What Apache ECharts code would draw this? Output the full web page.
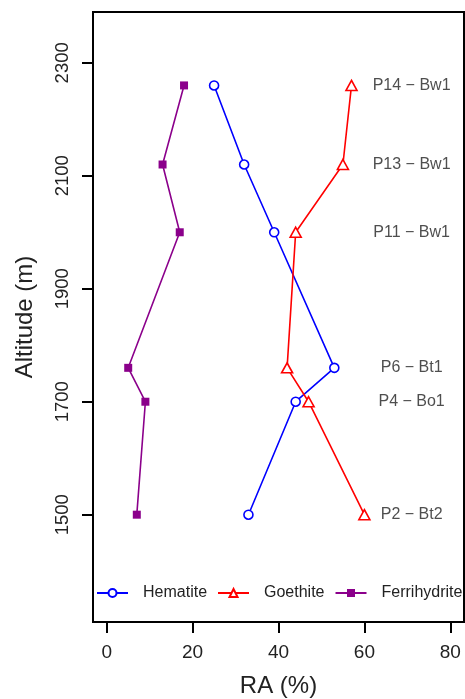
<!DOCTYPE html>
<html>
<head>
<meta charset="utf-8">
<script src="https://cdn.jsdelivr.net/npm/echarts@6/dist/echarts.min.js"></script>
<style>
html,body{margin:0;padding:0;background:#fff;}
#c{width:465px;height:699px;}
</style>
</head>
<body>
<div id="c"></div>
<script>
var altitudes = [2260, 2120, 2000, 1760, 1700, 1500];
var hematite = [25, 32, 39, 53, 44, 33];
var goethite = [57, 55, 44, 42, 47, 60];
var ferrihydrite = [18, 13, 17, 5, 9, 7];
var profileLabels = ['P14 − Bw1', 'P13 − Bw1', 'P11 − Bw1', 'P6 − Bt1', 'P4 − Bo1', 'P2 − Bt2'];
var labelX = 71;
var xTicks = [0, 20, 40, 60, 80];
var yTicks = [1500, 1700, 1900, 2100, 2300];

function pairs(vals) {
  return vals.map(function (v, i) { return [v, altitudes[i]]; });
}

var font = 'Liberation Sans, Arial, sans-serif';
var chart = echarts.init(document.getElementById('c'));
chart.setOption({
  animation: false,
  backgroundColor: '#fff',
  grid: {left: 93, right: 1, top: 12, bottom: 77, show: true, borderColor: '#000', borderWidth: 2,
    backgroundColor: 'transparent', outerBoundsMode: 'none', containLabel: false},
  legend: {
    left: 91, top: 580, width: 420,
    itemWidth: 31, itemHeight: 10, itemGap: 10,
    textStyle: {fontFamily: font, fontSize: 16, color: '#222', padding: [0, 0, 0, 10]},
    data: ['Hematite', 'Goethite', 'Ferrihydrite']
  },
  xAxis: {
    type: 'value', min: -3.2, max: 83.2,
    name: 'RA (%)', nameLocation: 'middle', nameGap: 52,
    nameTextStyle: {fontFamily: font, fontSize: 24, color: '#222'},
    axisLine: {show: true, onZero: false, lineStyle: {color: '#000', width: 2}},
    axisTick: {show: true, length: 11, inside: false, customValues: xTicks, lineStyle: {color: '#000', width: 2}},
    axisLabel: {customValues: xTicks, fontFamily: font, fontSize: 19, color: '#222', margin: 21,
      formatter: function (v) { return String(v); }},
    splitLine: {show: false}
  },
  yAxis: {
    type: 'value', min: 1310, max: 2390,
    name: 'Altitude (m)', nameLocation: 'middle', nameGap: 56,
    nameTextStyle: {fontFamily: font, fontSize: 24, color: '#222'},
    axisLine: {show: true, onZero: false, lineStyle: {color: '#000', width: 2}},
    axisTick: {show: true, length: 11, inside: false, customValues: yTicks, lineStyle: {color: '#000', width: 2}},
    axisLabel: {customValues: yTicks, rotate: 90, fontFamily: font, fontSize: 18.5, color: '#222', margin: 21,
      formatter: function (v) { return String(v); }},
    splitLine: {show: false}
  },
  series: [
    {
      name: 'Hematite', type: 'line', data: pairs(hematite),
      symbol: 'circle', symbolSize: 9,
      lineStyle: {color: '#0000FF', width: 1.6},
      itemStyle: {color: '#fff', borderColor: '#0000FF', borderWidth: 1.6}
    },
    {
      name: 'Goethite', type: 'line', data: pairs(goethite),
      symbol: 'path://M0,-10 L8.66,5 L-8.66,5 Z', symbolSize: [11, 10],
      lineStyle: {color: '#FF0000', width: 1.6},
      itemStyle: {color: '#fff', borderColor: '#FF0000', borderWidth: 1.6}
    },
    {
      name: 'Ferrihydrite', type: 'line', data: pairs(ferrihydrite),
      symbol: 'rect', symbolSize: 8,
      lineStyle: {color: '#8B008B', width: 1.6},
      itemStyle: {color: '#8B008B', borderColor: '#8B008B', borderWidth: 0}
    },
    {
      name: 'labels', type: 'scatter', symbolSize: 0, silent: true,
      data: profileLabels.map(function (t, i) { return {value: [labelX, altitudes[i]], name: t}; }),
      label: {show: true, position: 'inside', formatter: '{b}', fontFamily: font, fontSize: 16, color: '#222'}
    }
  ]
});
</script>
</body>
</html>
